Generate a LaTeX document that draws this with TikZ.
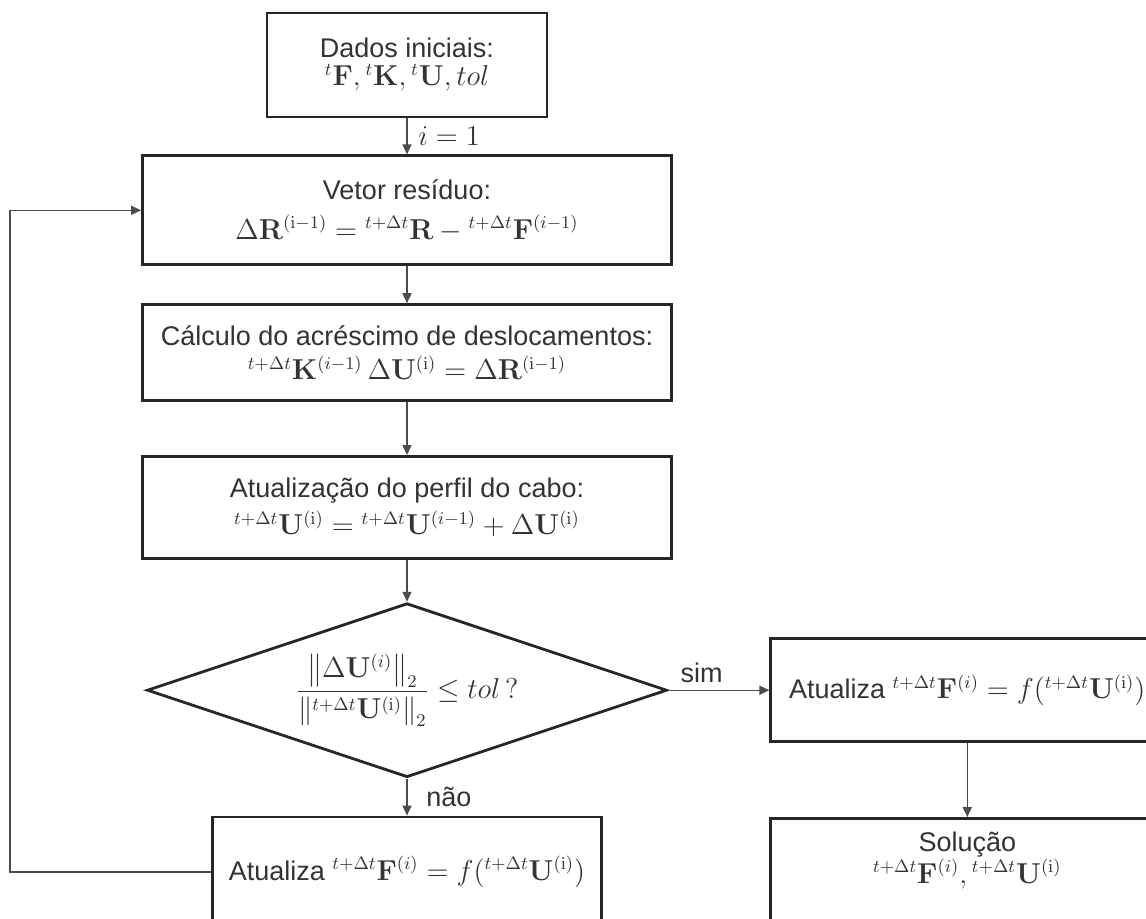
\documentclass[tikz,border=0pt]{standalone}
\usepackage{amsmath}
\usepackage{amssymb}
\usepackage[no-math]{fontspec}
\setmainfont{Liberation Sans}
\usepackage{tikz}
\usetikzlibrary{
  shapes.geometric,
  positioning,
  arrows.meta
}
\tikzset{
  ->,
  >={Triangle[length=5pt,width=4.5pt]},
  every node/.style={text=black!80, font=\fontsize{13.5}{14}\selectfont},
  block/.style={draw=black!85, line width=1.4pt, align=center, inner sep=1pt},
  wide/.style={minimum width=264.5pt},
  side/.style={minimum width=196.5pt},
  decision/.style={diamond, draw=black!85, line width=1.4pt, aspect=3, inner sep=0pt,
    minimum width=260pt, minimum height=87pt},
  line/.style={draw=black!70, line width=0.7pt}
}
\newcommand{\tdt}{{}^{t+\Delta t}}

\begin{document}
\begin{tikzpicture}[x=0.5pt, y=-0.5pt]
    \useasboundingbox (0,0) rectangle (1146,918);
    \node[block, minimum width=140pt, minimum height=52pt] (dados) at (407,65)
      {Dados iniciais:\\ ${}^{t}\mathbf{F}, {}^{t}\mathbf{K}, {}^{t}\mathbf{U}, tol$};
    \node[block, wide, minimum height=54.5pt, below=18pt of dados] (residuo)
      {Vetor resíduo:\\[6pt] $\Delta\mathbf{R}^{(\mathrm{i}-1)} = \tdt\mathbf{R} - \tdt\mathbf{F}^{(i-1)}$};
    \node[block, wide, minimum height=48pt, below=18.5pt of residuo] (calculo)
      {Cálculo do acréscimo de deslocamentos:\\[3pt] $\tdt\mathbf{K}^{(i-1)}\,\Delta\mathbf{U}^{(\mathrm{i})} = \Delta\mathbf{R}^{(\mathrm{i}-1)}$};
    \node[block, wide, minimum height=51pt, below=26.5pt of calculo] (perfil)
      {Atualização do perfil do cabo:\\[3pt] $\tdt\mathbf{U}^{(\mathrm{i})} = \tdt\mathbf{U}^{(i-1)} + \Delta\mathbf{U}^{(\mathrm{i})}$};
    \node[decision, below=21pt of perfil] (teste)
      {$\dfrac{\left\|\Delta\mathbf{U}^{(i)}\right\|_2}{\left\|\tdt\mathbf{U}^{(\mathrm{i})}\right\|_2} \leq tol\,?$};
    \node[block, side, minimum height=51.5pt, right=50.5pt of teste] (atualizaS)
      {Atualiza $\tdt\mathbf{F}^{(i)} = f(\tdt\mathbf{U}^{(\mathrm{i})})$};
    \node[block, minimum width=194.5pt, minimum height=55pt, below=18.5pt of teste] (atualizaN)
      {Atualiza $\tdt\mathbf{F}^{(i)} = f(\tdt\mathbf{U}^{(\mathrm{i})})$};
    \node[block, side, minimum height=55pt, below=37pt of atualizaS] (solucao)
      {Solução\\ $\tdt\mathbf{F}^{(i)}, \tdt\mathbf{U}^{(\mathrm{i})}$\\[2pt]};
    \draw[line] (dados) -- node[right, xshift=2pt]{$i = 1$} (residuo);
    \draw[line] (residuo) -- (calculo);
    \draw[line] (calculo) -- (perfil);
    \draw[line] (perfil) -- (teste);
    \draw[line] (teste.east) -- node[above, pos=0.33]{sim} (atualizaS);
    \draw[line] (teste.south) -- node[right, xshift=6pt]{não} (atualizaN);
    \draw[line] (atualizaS) -- (solucao);
    \draw[line] (atualizaN.west) -- ++(-201,0) |- (residuo.west);
  \end{tikzpicture}
\end{document}
